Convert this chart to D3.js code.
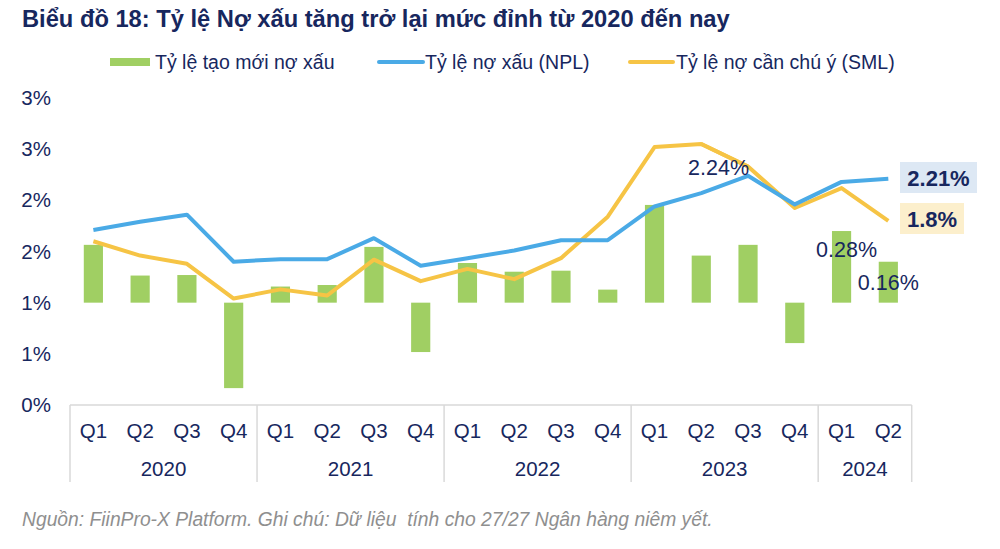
<!DOCTYPE html>
<html>
<head>
<meta charset="utf-8">
<script src="https://cdn.jsdelivr.net/npm/d3@7"></script>
<style>
  html, body { margin: 0; padding: 0; background: #ffffff; }
  svg { display: block; font-family: "Liberation Sans", Arial, sans-serif; }
</style>
</head>
<body>
<svg id="chart" width="1000" height="549"></svg>
<script>
// ---- data ----
const years = ["2020", "2021", "2022", "2023", "2024"];
const quarters = ["Q1","Q2","Q3","Q4","Q1","Q2","Q3","Q4","Q1","Q2","Q3","Q4","Q1","Q2","Q3","Q4","Q1","Q2"];
const yearOf = ["2020","2020","2020","2020","2021","2021","2021","2021","2022","2022","2022","2022","2023","2023","2023","2023","2024","2024"];
const newNplRate = [0.226, 0.106, 0.108, -0.334, 0.063, 0.069, 0.218, -0.193, 0.155, 0.121, 0.125, 0.051, 0.382, 0.184, 0.226, -0.158, 0.28, 0.16];
const nplRatio = [1.71, 1.79, 1.86, 1.40, 1.425, 1.425, 1.63, 1.36, 1.435, 1.51, 1.61, 1.61, 1.94, 2.07, 2.24, 1.96, 2.18, 2.21];
const smlRatio = [1.60, 1.46, 1.38, 1.04, 1.13, 1.07, 1.42, 1.21, 1.33, 1.23, 1.435, 1.84, 2.52, 2.55, 2.33, 1.925, 2.12, 1.80];
const yTicks = [0, 0.5, 1, 1.5, 2, 2.5, 3];
const yTickLabels = ["0%", "1%", "1%", "2%", "2%", "3%", "3%"];
const seriesNames = ["Tỷ lệ tạo mới nợ xấu", "Tỷ lệ nợ xấu (NPL)", "Tỷ lệ nợ cần chú ý (SML)"];
const titleText = "Biểu đồ 18: Tỷ lệ Nợ xấu tăng trở lại mức đỉnh từ 2020 đến nay";
const sourceText = "Nguồn: FiinPro-X Platform. Ghi chú: Dữ liệu  tính cho 27/27 Ngân hàng niêm yết.";

// ---- style ----
const NAVY = "#17275e";
const GREEN = "#a0cf63";
const BLUE = "#4aaae6";
const YELLOW = "#f6c445";
const GRID = "#d9d9d9";

const svg = d3.select("#chart");
const idx = d3.range(quarters.length);

const x = d3.scaleBand().domain(idx).range([70, 911.7]).paddingInner(0).paddingOuter(0);
const y = d3.scaleLinear().domain([0, 3]).range([405, 98]);
const y2 = d3.scaleLinear().domain([-0.4, 0.8]).range([405, 98]);
const cx = i => x(i) + x.bandwidth() / 2;
const barW = x.bandwidth() * 0.41;

// title
svg.append("text").attr("x", 22).attr("y", 27)
  .attr("font-size", 23.7).attr("font-weight", "bold").attr("fill", NAVY)
  .text(titleText);

// legend
const leg = svg.append("g").attr("font-size", 19.5).attr("fill", NAVY);
leg.append("rect").attr("x", 110).attr("y", 58).attr("width", 40).attr("height", 8).attr("fill", GREEN);
leg.append("text").attr("x", 155).attr("y", 62).attr("dy", "0.35em").text(seriesNames[0]);
leg.append("line").attr("x1", 379).attr("x2", 423).attr("y1", 62).attr("y2", 62)
  .attr("stroke", BLUE).attr("stroke-width", 4).attr("stroke-linecap", "round");
leg.append("text").attr("x", 425).attr("y", 62).attr("dy", "0.35em").text(seriesNames[1]);
leg.append("line").attr("x1", 630).attr("x2", 673).attr("y1", 62).attr("y2", 62)
  .attr("stroke", YELLOW).attr("stroke-width", 4).attr("stroke-linecap", "round");
leg.append("text").attr("x", 676).attr("y", 62).attr("dy", "0.35em").text(seriesNames[2]);

// y axis (labels only)
const yAxis = d3.axisLeft(y).tickValues(yTicks)
  .tickFormat((d, i) => yTickLabels[i]).tickSize(0).tickPadding(0);
const yg = svg.append("g").attr("transform", "translate(51,0)").call(yAxis);
yg.select(".domain").remove();
yg.selectAll("text").attr("font-size", 20.5).attr("fill", NAVY)
  .attr("font-family", "'Liberation Sans', Arial, sans-serif");

// bars
svg.append("g").selectAll("rect").data(idx).join("rect")
  .attr("x", i => cx(i) - barW / 2)
  .attr("width", barW)
  .attr("y", i => Math.min(y2(newNplRate[i]), y2(0)))
  .attr("height", i => Math.abs(y2(newNplRate[i]) - y2(0)))
  .attr("fill", GREEN);

// lines
const line = arr => d3.line().x(i => cx(i)).y(i => y(arr[i]))(idx);
svg.append("path").attr("d", line(smlRatio)).attr("fill", "none")
  .attr("stroke", YELLOW).attr("stroke-width", 4).attr("stroke-linejoin", "round");
svg.append("path").attr("d", line(nplRatio)).attr("fill", "none")
  .attr("stroke", BLUE).attr("stroke-width", 4).attr("stroke-linejoin", "round");
svg.append("path").attr("d", d3.line().x(i => cx(i)).y(i => y(smlRatio[i]))(d3.range(13, 15)))
  .attr("fill", "none").attr("stroke", YELLOW).attr("stroke-width", 4).attr("stroke-linejoin", "round");

// x axis: baseline and separators
const axisG = svg.append("g");
axisG.append("line").attr("x1", 70).attr("x2", 911.7).attr("y1", 405).attr("y2", 405)
  .attr("stroke", GRID).attr("stroke-width", 1.5);
const boundaries = [0, 4, 8, 12, 16, 18];
axisG.selectAll("line.sep").data(boundaries).join("line").attr("class", "sep")
  .attr("x1", b => b < 18 ? x(b) : x(17) + x.bandwidth())
  .attr("x2", b => b < 18 ? x(b) : x(17) + x.bandwidth())
  .attr("y1", 405).attr("y2", 482)
  .attr("stroke", GRID).attr("stroke-width", 1.5);

// quarter labels
svg.append("g").selectAll("text").data(idx).join("text")
  .attr("x", i => cx(i)).attr("y", 431).attr("dy", "0.35em")
  .attr("text-anchor", "middle").attr("font-size", 20.5).attr("fill", NAVY)
  .text(i => quarters[i]);
// year labels
svg.append("g").selectAll("text").data(years).join("text")
  .attr("x", yr => {
    const ids = idx.filter(i => yearOf[i] === yr);
    return (x(ids[0]) + x(ids[ids.length - 1]) + x.bandwidth()) / 2;
  })
  .attr("y", 469).attr("dy", "0.35em")
  .attr("text-anchor", "middle").attr("font-size", 20.5).attr("fill", NAVY)
  .text(yr => yr);

// data labels
const lbl = svg.append("g").attr("fill", NAVY).attr("font-size", 21.5);
lbl.append("text").attr("x", cx(14) + 1).attr("y", 167)
  .attr("text-anchor", "end").attr("dy", "0.35em").text("2.24%");
lbl.append("text").attr("x", cx(16) + 5).attr("y", 249)
  .attr("text-anchor", "middle").attr("dy", "0.35em").text("0.28%");
lbl.append("text").attr("x", cx(17)).attr("y", 282)
  .attr("text-anchor", "middle").attr("dy", "0.35em").text("0.16%");

// end labels with boxes
svg.append("rect").attr("x", 900).attr("y", 162).attr("width", 77).attr("height", 31).attr("fill", "#dde8f4");
svg.append("rect").attr("x", 900).attr("y", 203).attr("width", 64).attr("height", 31).attr("fill", "#fcefcc");
svg.append("text").attr("x", 938.5).attr("y", 178).attr("dy", "0.35em").attr("text-anchor", "middle")
  .attr("font-size", 22).attr("font-weight", "bold").attr("fill", NAVY).text("2.21%");
svg.append("text").attr("x", 932).attr("y", 219).attr("dy", "0.35em").attr("text-anchor", "middle")
  .attr("font-size", 22).attr("font-weight", "bold").attr("fill", NAVY).text("1.8%");

// source
svg.append("text").attr("x", 22).attr("y", 519).attr("dy", "0.35em")
  .attr("font-size", 19.3).attr("font-style", "italic").attr("fill", "#8f8f8f")
  .style("white-space", "pre")
  .text(sourceText);
</script>
</body>
</html>
